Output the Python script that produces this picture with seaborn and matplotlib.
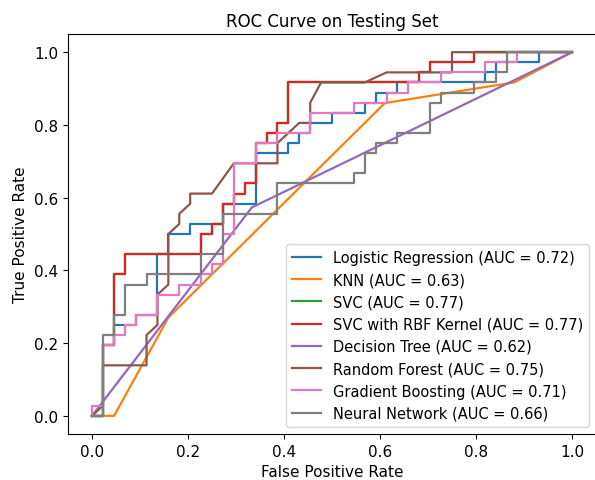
import pandas as pd
import matplotlib
matplotlib.use('Agg')
import matplotlib.pyplot as plt
import seaborn as sns

# Test set: 44 negatives, 36 positives
N_NEG = 44
N_POS = 36

models = ['Logistic Regression', 'KNN', 'SVC', 'SVC with RBF Kernel',
          'Decision Tree', 'Random Forest', 'Gradient Boosting', 'Neural Network']
aucs = [0.72, 0.63, 0.77, 0.77, 0.62, 0.75, 0.71, 0.66]

# ROC points as (false positive count, true positive count)
lr_fp = [0, 1, 1, 2, 2, 4, 4, 6, 6, 7, 7, 9, 9, 12, 12, 15, 15, 18, 18, 19, 19, 20, 20,
         22, 22, 25, 25, 26, 26, 28, 28, 36, 36, 37, 37, 41, 41, 44]
lr_tp = [0, 0, 7, 7, 9, 9, 10, 10, 16, 16, 18, 18, 19, 19, 21, 21, 26, 26, 27, 27, 28, 28, 29,
         29, 30, 30, 31, 31, 32, 32, 33, 33, 34, 34, 35, 35, 36, 36]

svc_fp = [0, 1, 1, 2, 2, 3, 3, 10, 10, 11, 11, 12, 12, 13, 13, 14, 14, 15, 15, 16, 16, 17,
          17, 18, 18, 30, 30, 31, 31, 35, 35, 44]
svc_tp = [0, 0, 7, 7, 14, 14, 16, 16, 18, 18, 19, 19, 21, 21, 22, 22, 23, 23, 27, 27, 28, 28,
          29, 29, 33, 33, 34, 34, 35, 35, 36, 36]

rf_fp = [0, 1, 1, 5, 5, 6, 6, 7, 7, 8, 8, 9, 9, 11, 13, 17, 17, 19, 20, 20, 21, 25, 27, 33, 33, 44]
rf_tp = [0, 1, 5, 5, 8, 9, 12, 13, 18, 19, 20, 21, 22, 22, 25, 25, 27, 29, 29, 31, 33, 33, 34, 34, 36, 36]

gb_fp = [0, 0, 1, 1, 2, 2, 3, 3, 4, 4, 6, 6, 8, 8, 10, 10, 11, 11, 12, 12, 13, 13, 15, 15, 17,
         17, 20, 20, 24, 24, 27, 27, 29, 29, 32, 32, 36, 36, 39, 39, 44]
gb_tp = [0, 1, 1, 7, 7, 8, 8, 9, 9, 10, 10, 12, 12, 13, 13, 14, 14, 15, 15, 18, 18, 25, 25, 27, 27,
         28, 28, 30, 30, 31, 31, 32, 32, 33, 33, 34, 34, 35, 35, 36, 36]

nn_fp = [0, 1, 1, 2, 2, 3, 3, 5, 5, 10, 10, 12, 12, 17, 17, 24, 24, 25, 25, 26, 26, 28, 28,
         31, 31, 32, 32, 35, 35, 37, 37, 38, 38, 44]
nn_tp = [0, 0, 8, 8, 10, 10, 13, 13, 14, 14, 16, 16, 20, 20, 23, 23, 24, 24, 26, 26, 27, 27, 28,
         28, 31, 31, 32, 32, 33, 33, 34, 34, 36, 36]

# KNN and decision tree only have a few thresholds (rates)
knn_fpr = [0.0, 0.046, 0.159, 0.61, 0.88, 1.0]
knn_tpr = [0.0, 0.0, 0.27, 0.86, 0.917, 1.0]
dt_fpr = [0.0, 0.333, 1.0]
dt_tpr = [0.0, 0.573, 1.0]


def to_rates(fp, tp):
    return [v / N_NEG for v in fp], [v / N_POS for v in tp]


curves = {
    'Logistic Regression': to_rates(lr_fp, lr_tp),
    'KNN': (knn_fpr, knn_tpr),
    'SVC': to_rates(svc_fp, svc_tp),
    'SVC with RBF Kernel': to_rates(svc_fp, svc_tp),
    'Decision Tree': (dt_fpr, dt_tpr),
    'Random Forest': to_rates(rf_fp, rf_tp),
    'Gradient Boosting': to_rates(gb_fp, gb_tp),
    'Neural Network': to_rates(nn_fp, nn_tp),
}

rows = []
for name, auc in zip(models, aucs):
    label = f'{name} (AUC = {auc:.2f})'
    fpr, tpr = curves[name]
    for x, y in zip(fpr, tpr):
        rows.append({'model': label, 'fpr': x, 'tpr': y})
df = pd.DataFrame(rows)

plt.rcParams['font.size'] = 11
fig = plt.figure(figsize=(5.95, 4.81), dpi=100)
ax = fig.add_axes([68 / 595, 46 / 481, 528 / 595, 400 / 481])

labels = [f'{m} (AUC = {a:.2f})' for m, a in zip(models, aucs)]
sns.lineplot(data=df, x='fpr', y='tpr', hue='model', hue_order=labels,
             palette=sns.color_palette('tab10', 8), sort=False, estimator=None,
             units='model', linewidth=1.6, ax=ax)

ax.set_xlim(-0.05, 1.05)
ax.set_ylim(-0.05, 1.05)
ax.set_xticks([0.0, 0.2, 0.4, 0.6, 0.8, 1.0])
ax.set_yticks([0.0, 0.2, 0.4, 0.6, 0.8, 1.0])
ax.set_xlabel('False Positive Rate')
ax.set_ylabel('True Positive Rate')
ax.set_title('ROC Curve on Testing Set', fontsize=12)
ax.legend(loc='lower right', fontsize=10.5)

fig.savefig('out.png', dpi=100)
